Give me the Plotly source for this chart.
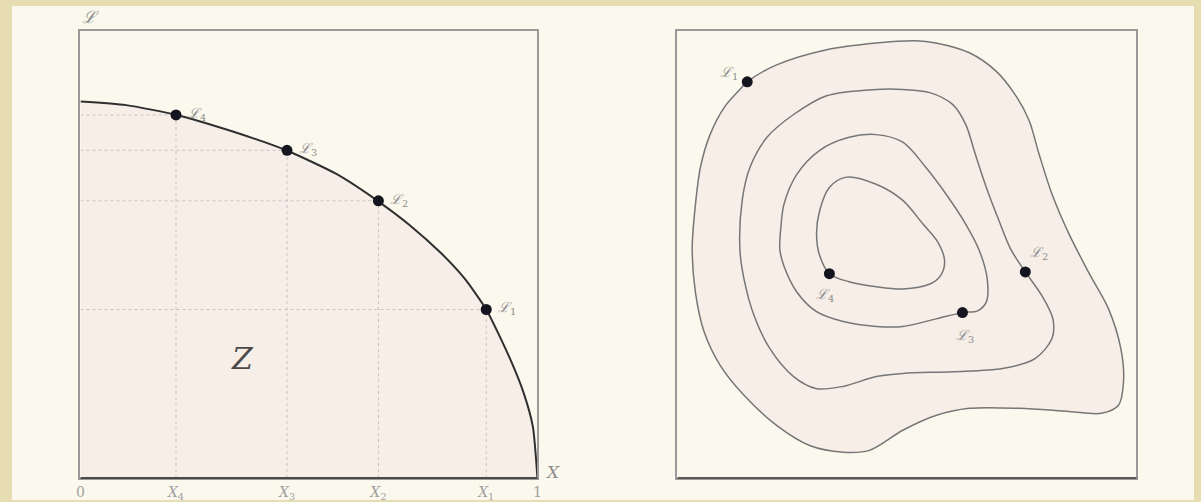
import plotly.graph_objects as go

# ---- Left panel: likelihood L against enclosed prior mass X ----
curve_X = [0.0, 0.10, 0.21, 0.33, 0.45, 0.56, 0.65, 0.72, 0.79, 0.84, 0.888, 0.94, 0.97, 0.99, 1.0]
curve_L = [0.842, 0.834, 0.812, 0.776, 0.733, 0.680, 0.620, 0.566, 0.502, 0.447, 0.377, 0.267, 0.190, 0.115, 0.0]

sample_names = ["1", "2", "3", "4"]
sample_X = [0.888, 0.652, 0.452, 0.209]
sample_L = [0.377, 0.620, 0.733, 0.812]

tick_vals = [0.0, 0.209, 0.452, 0.652, 0.888, 1.0]
tick_text = ["0", "<i>X</i><sub>4</sub>", "<i>X</i><sub>3</sub>", "<i>X</i><sub>2</sub>",
             "<i>X</i><sub>1</sub>", "1"]

# ---- Right panel: iso-likelihood contours in parameter space (0..100 units) ----
contour1_x = [15.2, 21.6, 32.5, 43.3, 51.9, 56.3, 63.6, 69.3, 73.6, 76.6, 78.8, 81.6, 85.3, 89.8,
              93.9, 96.6, 97.2, 96.1, 92.4, 85.3, 74.5, 63.6, 56.3, 49.1, 41.8, 36.1, 28.8, 21.6,
              14.5, 9.3, 5.8, 3.9, 3.2, 3.7, 5.0, 7.1, 10.2, 13.6]
contour1_y = [88.6, 92.4, 95.8, 97.3, 97.8, 97.3, 95.1, 91.1, 85.7, 80.0, 72.4, 63.5, 54.6, 45.6,
              37.9, 29.0, 21.6, 16.3, 14.5, 14.9, 15.6, 15.6, 14.0, 10.7, 6.2, 5.8, 7.3, 11.8,
              18.5, 25.2, 32.7, 41.6, 51.2, 59.0, 69.5, 76.8, 82.9, 86.9]

contour2_x = [43.3, 49.1, 55.0, 60.0, 62.8, 64.9, 67.3, 70.0, 72.6, 75.8, 79.4, 81.8, 81.6, 77.9,
              70.8, 60.0, 49.1, 43.3, 36.1, 30.3, 25.3, 20.1, 16.7, 14.5, 13.6, 14.1, 15.8, 19.5,
              25.3, 32.5]
contour2_y = [86.9, 86.9, 86.2, 83.5, 79.1, 72.4, 65.0, 57.7, 51.2, 46.1, 40.8, 35.6, 31.2, 26.7,
              24.5, 23.8, 23.4, 22.7, 20.5, 20.0, 22.7, 29.0, 36.3, 44.5, 51.2, 62.1, 69.5, 76.2,
              81.3, 85.5]

contour3_x = [43.3, 49.1, 54.1, 59.0, 62.8, 65.8, 67.5, 67.3, 65.4, 62.1, 56.3, 49.1, 43.3, 36.1,
              30.3, 26.0, 23.2, 22.3, 22.5, 23.2, 26.0, 31.0, 37.4]
contour3_y = [76.8, 75.1, 69.5, 62.8, 56.8, 50.8, 44.5, 39.4, 37.4, 37.0, 35.6, 33.9, 33.9, 35.0,
              37.2, 41.6, 47.4, 51.2, 55.7, 61.2, 67.9, 73.3, 76.2]

contour4_x = [36.8, 43.3, 49.1, 53.5, 56.7, 58.2, 57.4, 55.0, 49.1, 43.3, 37.4, 33.1, 31.0, 30.3,
              31.0, 33.1]
contour4_y = [67.3, 65.7, 62.1, 56.8, 52.8, 48.6, 45.4, 43.4, 42.3, 42.8, 43.9, 45.7, 49.7, 54.6,
              59.9, 65.0]

# sample points lying on the contours (L1..L4)
param_x = [15.2, 75.8, 62.1, 33.1]
param_y = [88.6, 46.1, 37.0, 45.7]

PAGE = "#fbf9ee"
EDGE = "#e7ddb3"
PINK = "#f8eee8"
DOT = "#15151f"
LABEL = "#8c8c8c"
SERIF = "DejaVu Serif"

fig = go.Figure()

# area under the curve (the evidence Z)
fig.add_trace(go.Scatter(x=curve_X, y=curve_L, mode="lines",
                         line=dict(color="#2f2f2f", width=2, shape="spline", smoothing=0.6),
                         fill="tozeroy", fillcolor=PINK, hoverinfo="skip", showlegend=False,
                         xaxis="x", yaxis="y"))

# dotted guide lines from the axes to each sample
for xv, lv in zip(sample_X, sample_L):
    fig.add_trace(go.Scatter(x=[0, xv], y=[lv, lv], mode="lines",
                             line=dict(color="#c4c4c4", width=1, dash="dot"),
                             hoverinfo="skip", showlegend=False, xaxis="x", yaxis="y"))
    fig.add_trace(go.Scatter(x=[xv, xv], y=[0, lv], mode="lines",
                             line=dict(color="#c4c4c4", width=1, dash="dot"),
                             hoverinfo="skip", showlegend=False, xaxis="x", yaxis="y"))

fig.add_trace(go.Scatter(x=sample_X, y=sample_L, mode="markers",
                         marker=dict(color=DOT, size=11), showlegend=False,
                         xaxis="x", yaxis="y"))


def closed(xs, ys):
    return xs + xs[:1], ys + ys[:1]


cx, cy = closed(contour1_x, contour1_y)
fig.add_trace(go.Scatter(x=cx, y=cy, mode="lines", fill="toself", fillcolor=PINK,
                         line=dict(color="#767676", width=1.5, shape="spline", smoothing=0.9),
                         hoverinfo="skip", showlegend=False, xaxis="x2", yaxis="y2"))
for xs, ys in [(contour2_x, contour2_y), (contour3_x, contour3_y), (contour4_x, contour4_y)]:
    cx, cy = closed(xs, ys)
    fig.add_trace(go.Scatter(x=cx, y=cy, mode="lines",
                             line=dict(color="#767676", width=1.5, shape="spline", smoothing=0.9),
                             hoverinfo="skip", showlegend=False, xaxis="x2", yaxis="y2"))

fig.add_trace(go.Scatter(x=param_x, y=param_y, mode="markers",
                         marker=dict(color=DOT, size=11), showlegend=False,
                         xaxis="x2", yaxis="y2"))

annotations = []
for name, xv, lv in zip(sample_names, sample_X, sample_L):
    annotations.append(dict(x=xv, y=lv, xref="x", yref="y", text=f"<i>ℒ</i><sub>{name}</sub>",
                            showarrow=False, xanchor="left", xshift=10, yshift=1,
                            font=dict(family=SERIF, size=14, color=LABEL)))

# label offsets around the contour samples
offsets = {"1": (-18, 9), "2": (14, 19), "3": (3, -23), "4": (-4, -21)}
for name, xv, yv in zip(sample_names, param_x, param_y):
    dx, dy = offsets[name]
    annotations.append(dict(x=xv, y=yv, xref="x2", yref="y2", text=f"<i>ℒ</i><sub>{name}</sub>",
                            showarrow=False, xshift=dx, yshift=dy,
                            font=dict(family=SERIF, size=14, color=LABEL)))

annotations += [
    dict(x=0.354, y=0.267, xref="x", yref="y", text="<i>Z</i>", showarrow=False,
         font=dict(family=SERIF, size=30, color="#4a4a4a")),
    dict(x=1.0, y=0.0, xref="x", yref="y", text="<i>X</i>", showarrow=False,
         xanchor="left", yanchor="bottom", xshift=6, yshift=-6,
         font=dict(family=SERIF, size=17, color=LABEL)),
    dict(x=0.0, y=1.0, xref="x", yref="y", text="<i>ℒ</i>", showarrow=False,
         xanchor="left", yanchor="bottom", xshift=0, yshift=2,
         font=dict(family=SERIF, size=17, color=LABEL)),
]

shapes = [
    # page edge tint
    dict(type="rect", xref="paper", yref="paper", x0=8 / 1201, x1=1198 / 1201, y0=0, y1=496 / 502,
         fillcolor=PAGE, line=dict(width=0), layer="below"),
    # darker base lines of both panels
    dict(type="line", xref="x domain", yref="y domain", x0=0, x1=1, y0=0, y1=0,
         line=dict(color="#4a4a4a", width=2)),
    dict(type="line", xref="x2 domain", yref="y2 domain", x0=0, x1=1, y0=0, y1=0,
         line=dict(color="#5a5a5a", width=2)),
]

W, H = 1201, 502
axis_common = dict(showgrid=False, zeroline=False, showline=True, mirror=True,
                   linecolor="#9a9a9a", linewidth=1.5)

fig.update_layout(
    width=W, height=H, margin=dict(l=0, r=0, t=0, b=0),
    paper_bgcolor=EDGE, plot_bgcolor="rgba(0,0,0,0)",
    xaxis=dict(domain=[77 / W, 537 / W], range=[0, 1], tickmode="array", tickvals=tick_vals,
               ticktext=tick_text, ticks="", tickfont=dict(family=SERIF, size=14, color="#a0a0a0"),
               anchor="y", **axis_common),
    yaxis=dict(domain=[22 / H, 471 / H], range=[0, 1], showticklabels=False, ticks="",
               anchor="x", **axis_common),
    xaxis2=dict(domain=[678 / W, 1140 / W], range=[0, 100], showticklabels=False, ticks="",
                anchor="y2", **axis_common),
    yaxis2=dict(domain=[22 / H, 471 / H], range=[0, 100], showticklabels=False, ticks="",
                anchor="x2", **axis_common),
    annotations=annotations, shapes=shapes,
)

fig.write_html("out.html")
